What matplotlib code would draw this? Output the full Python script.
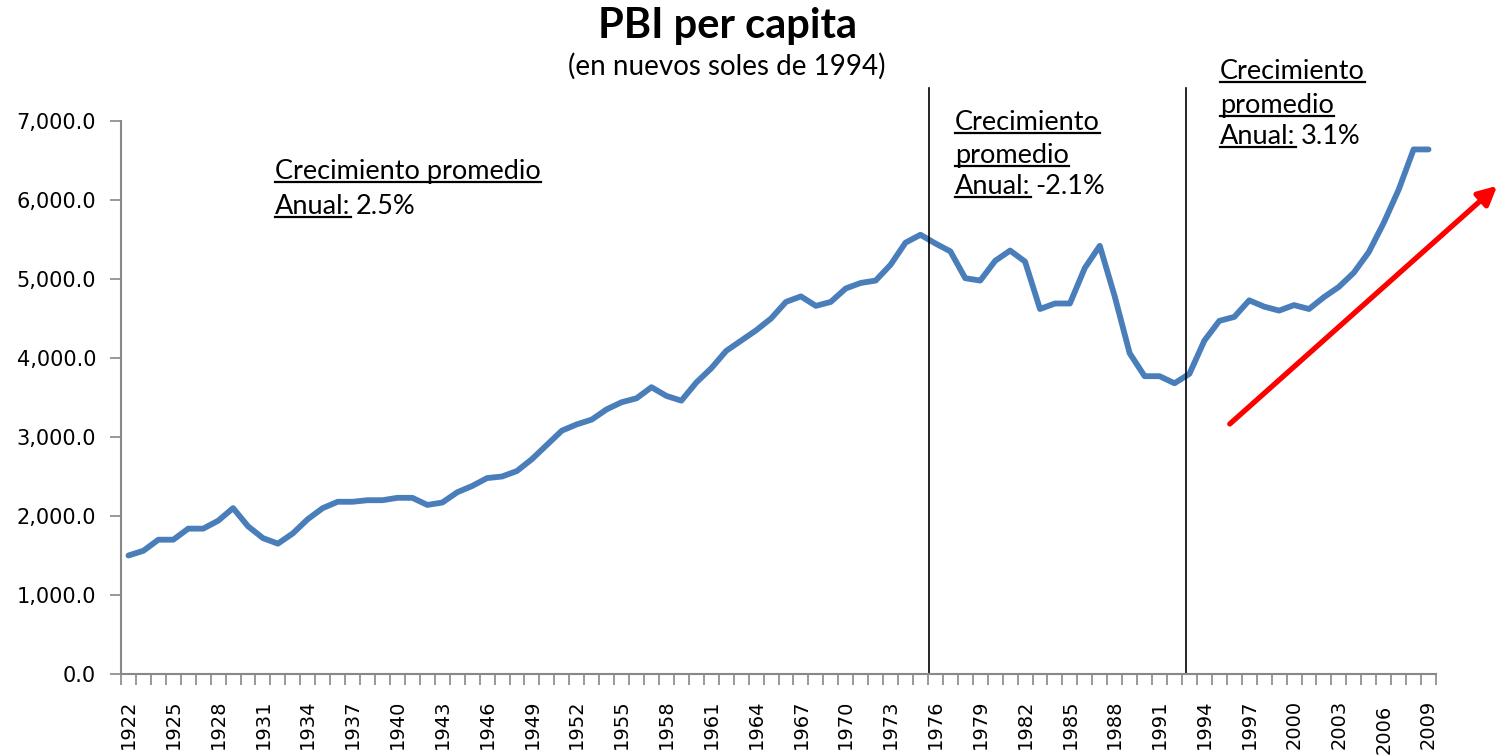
import numpy as np
import matplotlib
matplotlib.use("Agg")
import matplotlib.pyplot as plt
from matplotlib.lines import Line2D

# PBI per capita (nuevos soles de 1994), 1922-2009
years = list(range(1922, 2010))
pbi = [1500, 1560, 1700, 1700, 1840, 1840, 1940, 2100, 1870, 1720,
       1650, 1780, 1960, 2100, 2180, 2180, 2200, 2200, 2230, 2230,
       2140, 2170, 2300, 2380, 2480, 2500, 2570, 2720, 2900, 3080,
       3160, 3220, 3350, 3440, 3490, 3630, 3520, 3460, 3690, 3870,
       4090, 4220, 4350, 4500, 4710, 4780, 4660, 4710, 4880, 4950,
       4980, 5180, 5460, 5560, 5450, 5350, 5010, 4980, 5230, 5360,
       5220, 4620, 4690, 4690, 5140, 5420, 4780, 4060, 3770, 3770,
       3680, 3800, 4220, 4470, 4520, 4730, 4650, 4600, 4670, 4620,
       4770, 4900, 5080, 5340, 5710, 6130, 6640, 6640]

# periodos separados por lineas verticales (en unidades de categoria)
cortes = [53.58, 70.78]
# flecha de tendencia (categoria, valor)
flecha_ini = (73.7, 3165)
flecha_fin = (91.6, 6180)

W, H = 1499, 756
fig = plt.figure(figsize=(W / 100, H / 100), dpi=100)
ax = fig.add_axes([121 / W, 1 - 674 / H, (1436 - 121) / W, (674 - 121) / H])

x = np.arange(len(years))
ax.plot(x, pbi, color="#4a7ebb", lw=4.2, solid_capstyle="round", solid_joinstyle="round")

for c in cortes:
    ax.plot([c, c], [0, 7420], color="black", lw=1.2, clip_on=False)

ax.annotate("", xy=flecha_fin, xytext=flecha_ini, annotation_clip=False,
            arrowprops=dict(arrowstyle="-|>", color="#ff0000", lw=3.8,
                            mutation_scale=28, shrinkA=0, shrinkB=0))

ax.set_xlim(-0.5, len(years) - 0.5)
ax.set_ylim(0, 7000)
ax.set_yticks(np.arange(0, 7001, 1000))
ax.set_yticklabels([f"{v:,.1f}" for v in np.arange(0, 7001, 1000)])

# ticks en los limites de categoria, etiquetas cada 3 anos
ax.set_xticks(np.arange(-0.5, len(years), 1))
ax.set_xticklabels([])
ax.set_xticks(x[::3], minor=True)
ax.set_xticklabels([str(y) for y in years[::3]], minor=True, rotation=90)
ax.tick_params(axis="x", which="major", length=8, width=1.2, color="#888888", direction="out")
ax.tick_params(axis="x", which="minor", length=0, pad=18.5, labelsize=14)
ax.tick_params(axis="y", length=8, width=1.2, color="#888888", labelsize=15, pad=10)
for lab in ax.get_xticklabels(minor=True):
    if lab.get_text() == "2006":
        lab.set_y(-0.009)

for s in ["top", "right"]:
    ax.spines[s].set_visible(False)
for s in ["left", "bottom"]:
    ax.spines[s].set_color("#888888")
    ax.spines[s].set_linewidth(1.5)

cal = "Lato"
fig.text(727 / W, 1 - 38 / H, "PBI per capita", ha="center", va="baseline",
         fontsize=30, fontweight="bold", family=cal)
fig.text(727 / W, 1 - 75 / H, "(en nuevos soles de 1994)", ha="center", va="baseline",
         fontsize=20, family=cal)

renderer = fig.canvas.get_renderer()


def underline(t):
    bb = t.get_window_extent(renderer)
    y0 = bb.y0 + 2
    fig.add_artist(Line2D([bb.x0 / W, bb.x1 / W], [y0 / H, y0 / H],
                          transform=fig.transFigure, color="black", lw=1.6))
    return bb


def bloque(x0, lineas, tasa, fs=19.5):
    # lineas: lista de (texto, baseline en px desde arriba); la ultima es "Anual:"
    for txt, yb in lineas:
        t = fig.text(x0 / W, 1 - yb / H, txt, va="baseline", ha="left",
                     fontsize=fs, family=cal)
        bb = underline(t)
    fig.text((bb.x1 + 5) / W, 1 - lineas[-1][1] / H, tasa, va="baseline",
             ha="left", fontsize=fs, family=cal)


bloque(275, [("Crecimiento promedio", 179), ("Anual:", 214)], "2.5%")
bloque(955, [("Crecimiento", 130), ("promedio", 163), ("Anual:", 194)], "-2.1%")
bloque(1220, [("Crecimiento", 79), ("promedio", 113), ("Anual:", 144)], "3.1%")

fig.savefig("out.png", dpi=100)
